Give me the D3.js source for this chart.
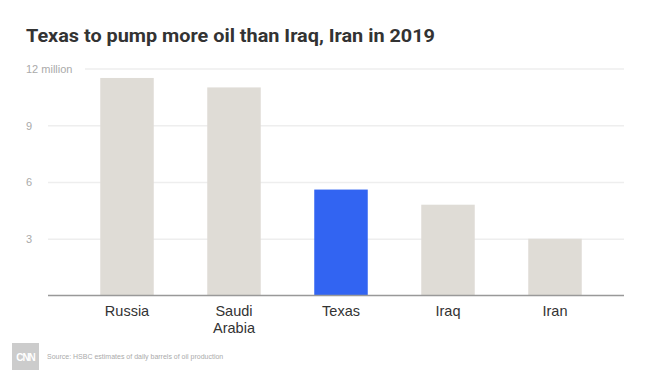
<!DOCTYPE html>
<meta charset="utf-8">
<title>Texas to pump more oil than Iraq, Iran in 2019</title>
<style>
  body { margin: 0; background: #fff; }
  svg { display: block; font-family: "Liberation Sans", Arial, sans-serif; }
  .title { font-family: Roboto, "Liberation Sans", sans-serif; font-weight: 700; font-size: 18px; fill: #333; }
  .grid line { stroke: #eeeeee; stroke-width: 1.5px; }
  .grid text { fill: #aaa; font-size: 11px; }
  .xaxis text { fill: #333; font-size: 14.5px; }
  .source { fill: #aaa; font-size: 7px; }
</style>
<body>
<svg width="656" height="385"></svg>
<script src="https://d3js.org/d3.v7.min.js"></script>
<script>

// data
var countries = ["Russia", "Saudi Arabia", "Texas", "Iraq", "Iran"];
var barrels = [11.5, 11.0, 5.6, 4.8, 3.0];   // million barrels per day
var highlight = ["Texas"];
var tickValues = [3, 6, 9, 12];

var svg = d3.select("svg");

// plot edges (note: "top" is reserved on window)
var plotLeft = 48, plotRight = 624, plotTop = 68.5, plotBottom = 295.5;

var x = d3.scaleBand()
    .domain(countries)
    .range([73.5, 608.5])
    .paddingInner(0.5)
    .paddingOuter(0.25);

var y = d3.scaleLinear()
    .domain([0, 12])
    .range([plotBottom, plotTop]);

// title
svg.append("text")
    .attr("class", "title")
    .attr("x", 26)
    .attr("y", 41.5)
    .attr("textLength", 409)
    .attr("lengthAdjust", "spacingAndGlyphs")
    .text("Texas to pump more oil than Iraq, Iran in 2019");

// gridlines + labels
var grid = svg.append("g")
    .attr("class", "grid")
    .attr("transform", "translate(" + plotLeft + ",0)")
    .call(d3.axisLeft(y)
      .tickValues(tickValues)
      .tickSize(-(plotRight - plotLeft))
      .tickFormat(function(d) { return d === 12 ? "12 million" : d; }));
grid.select(".domain").remove();
grid.selectAll(".tick line").attr("x1", function(d) { return d === 12 ? 37 : 0; });
grid.selectAll(".tick text")
    .attr("x", 26 - plotLeft)
    .attr("dy", "0.35em")
    .style("text-anchor", "start");

// bars
svg.append("g").selectAll("rect")
  .data(countries)
  .enter().append("rect")
    .attr("x", function(d) { return x(d); })
    .attr("width", x.bandwidth())
    .attr("y", function(d, i) { return y(barrels[i]); })
    .attr("height", function(d, i) { return y(0) - y(barrels[i]); })
    .attr("fill", function(d) { return highlight.indexOf(d) >= 0 ? "#3264f2" : "#dfdcd6"; });

// baseline
svg.append("line")
    .attr("x1", plotLeft).attr("x2", plotRight)
    .attr("y1", y(0)).attr("y2", y(0))
    .attr("stroke", "#999")
    .attr("stroke-width", 1.5);

// category labels
var xaxis = svg.append("g")
    .attr("class", "xaxis")
    .attr("transform", "translate(0," + y(0) + ")")
    .call(d3.axisBottom(x).tickSize(0).tickPadding(0));
xaxis.select(".domain").remove();
xaxis.selectAll(".tick text").each(function(d) {
  var t = d3.select(this), words = d.split(" ");
  t.text(null).attr("y", 20.5).attr("dy", null);
  words.forEach(function(w, i) {
    t.append("tspan").attr("x", 0).attr("dy", i ? 16.5 : 0).text(w);
  });
});

// footer
var logo = svg.append("g").attr("transform", "translate(12,343)");
logo.append("rect").attr("width", 27).attr("height", 27).attr("fill", "#cccccc");
logo.append("text")
    .attr("x", 13.5).attr("y", 17.5)
    .attr("text-anchor", "middle")
    .attr("fill", "#fff")
    .style("font-weight", 700)
    .style("font-size", "10px")
    .style("letter-spacing", "-1px")
    .text("CNN");

svg.append("text")
    .attr("class", "source")
    .attr("x", 47)
    .attr("y", 359)
    .text("Source: HSBC estimates of daily barrels of oil production");

</script>
</body>
